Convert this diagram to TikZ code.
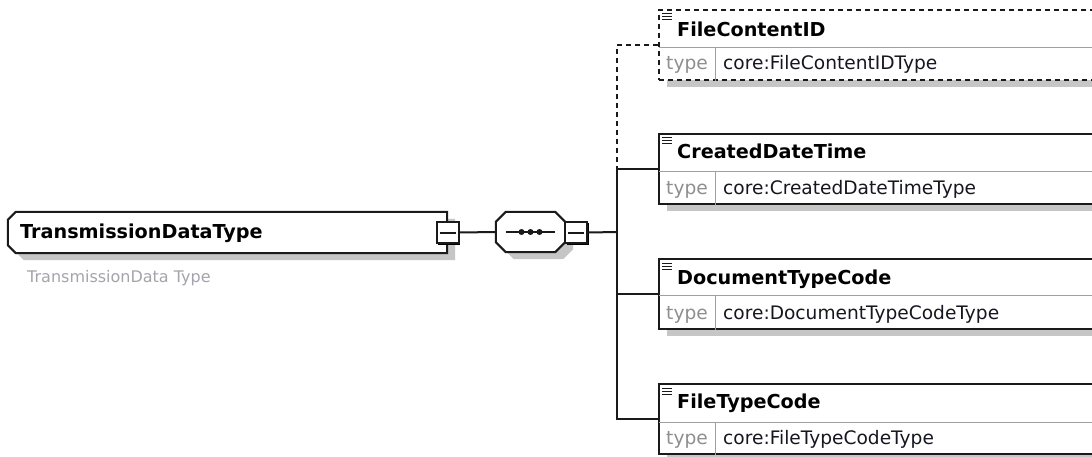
\documentclass[tikz,border=0pt]{standalone}
\usepackage{fontspec}
\setsansfont{DejaVu Sans}
\usetikzlibrary{shadows}
\definecolor{boxline}{HTML}{1A1A1A}
\definecolor{shadowgray}{HTML}{C6C6C6}
\definecolor{dividergray}{HTML}{A0A0A0}
\definecolor{typegray}{HTML}{8E8E8E}
\definecolor{notegray}{HTML}{A4A4AC}
\definecolor{valuetext}{HTML}{161620}
\begin{document}
\begin{tikzpicture}[x=1pt, y=-1pt,
  box/.style={draw=boxline, line width=2pt, fill=white, inner sep=0pt},
  shade box/.style={drop shadow={shadow xshift=8pt, shadow yshift=-7pt, fill=shadowgray, opacity=1}},
  frame/.style={inner sep=0pt},
  elem/.style={box, shade box, anchor=north west, minimum width=480pt, minimum height=70pt},
  optional/.style={dash pattern=on 5pt off 4pt},
  minusbox/.style={box, minimum width=22pt, minimum height=21pt, drop shadow={shadow xshift=1.5pt, shadow yshift=-1.5pt, fill=black, opacity=1}},
  conn/.style={draw=boxline, line width=2pt},
  divider/.style={draw=dividergray, line width=1pt},
  icon/.style={draw=boxline, line width=1pt},
  name font/.style={anchor=base west, inner sep=0pt, font=\sffamily\bfseries\fontsize{19.2}{22}\selectfont},
  type font/.style={anchor=base west, inner sep=0pt, text=typegray, font=\sffamily\fontsize{18.6}{22}\selectfont},
  value font/.style={anchor=base west, inner sep=0pt, text=valuetext, font=\sffamily\fontsize{18.6}{22}\selectfont},
  note font/.style={anchor=base west, inner sep=0pt, text=notegray, font=\sffamily\fontsize{16}{19}\selectfont}]
\useasboundingbox (0,0) rectangle (1092,457);
\clip (0,0) rectangle (1092,457);
\fill[white] (0,0) rectangle (1092,457);

\node (main) [frame, minimum width=439pt, minimum height=41pt] at (227.5,232.5) {};
\draw[box, shade box] ([shift={(0,8)}]main.north west) -- ([shift={(8,0)}]main.north west) -- (main.north east) -- (main.south east) -- ([shift={(8,0)}]main.south west) -- ([shift={(0,-8)}]main.south west) -- cycle;
\node (main_label) [name font] at (20,238) {TransmissionDataType};
\node (main_note) [note font] at (27,282) {TransmissionData Type};
\node (main_minus) [minusbox] at (447.5,232.5) {};
\draw[conn] ([xshift=4pt]main_minus.west) -- ([xshift=-4pt]main_minus.east);

\node (seq) [frame, minimum width=69pt, minimum height=40pt] at (530.5,232) {};
\draw[box, shade box] ([shift={(0,10)}]seq.north west) -- ([shift={(10,0)}]seq.north west) -- ([shift={(-10,0)}]seq.north east) -- ([shift={(0,10)}]seq.north east) -- ([shift={(0,-10)}]seq.south east) -- ([shift={(-10,0)}]seq.south east) -- ([shift={(10,0)}]seq.south west) -- ([shift={(0,-10)}]seq.south west) -- cycle;
\draw[conn] ([xshift=10pt]seq.west) -- ([xshift=-10pt]seq.east);
\fill[boxline] ([xshift=-9pt]seq.center) circle (3pt) (seq.center) circle (3pt) ([xshift=9pt]seq.center) circle (3pt);
\node (seq_minus) [minusbox] at (576,232.5) {};
\draw[conn] ([xshift=4pt]seq_minus.west) -- ([xshift=-4pt]seq_minus.east);

\coordinate (bus) at (617,232);

\node (file_content_id) [elem, optional] at (658,9) {};
\draw[divider] ([shift={(1,39)}]file_content_id.north west) -- ([shift={(0,39)}]file_content_id.north east);
\draw[divider] ([shift={(57,39)}]file_content_id.north west) -- ([shift={(57,0)}]file_content_id.south west);
\draw[icon] ([shift={(4,5)}]file_content_id.north west) -- ++(10,0) ([shift={(4,8)}]file_content_id.north west) -- ++(10,0) ([shift={(4,11)}]file_content_id.north west) -- ++(10,0);
\node (file_content_id_name) [name font] at ([shift={(19,28)}]file_content_id.north west) {FileContentID};
\node (file_content_id_type) [type font] at ([shift={(8,61)}]file_content_id.north west) {type};
\node (file_content_id_value) [value font] at ([shift={(65,61)}]file_content_id.north west) {core:FileContentIDType};

\node (created_date_time) [elem] at (658,133) {};
\draw[divider] ([shift={(1,39)}]created_date_time.north west) -- ([shift={(0,39)}]created_date_time.north east);
\draw[divider] ([shift={(57,39)}]created_date_time.north west) -- ([shift={(57,0)}]created_date_time.south west);
\draw[icon] ([shift={(4,5)}]created_date_time.north west) -- ++(10,0) ([shift={(4,8)}]created_date_time.north west) -- ++(10,0) ([shift={(4,11)}]created_date_time.north west) -- ++(10,0);
\node (created_date_time_name) [name font] at ([shift={(19,26)}]created_date_time.north west) {CreatedDateTime};
\node (created_date_time_type) [type font] at ([shift={(8,62)}]created_date_time.north west) {type};
\node (created_date_time_value) [value font] at ([shift={(65,62)}]created_date_time.north west) {core:CreatedDateTimeType};

\node (document_type_code) [elem] at (658,258) {};
\draw[divider] ([shift={(1,37)}]document_type_code.north west) -- ([shift={(0,37)}]document_type_code.north east);
\draw[divider] ([shift={(57,37)}]document_type_code.north west) -- ([shift={(57,0)}]document_type_code.south west);
\draw[icon] ([shift={(4,5)}]document_type_code.north west) -- ++(10,0) ([shift={(4,8)}]document_type_code.north west) -- ++(10,0) ([shift={(4,11)}]document_type_code.north west) -- ++(10,0);
\node (document_type_code_name) [name font] at ([shift={(19,26)}]document_type_code.north west) {DocumentTypeCode};
\node (document_type_code_type) [type font] at ([shift={(8,61)}]document_type_code.north west) {type};
\node (document_type_code_value) [value font] at ([shift={(65,61)}]document_type_code.north west) {core:DocumentTypeCodeType};

\node (file_type_code) [elem] at (658,383) {};
\draw[divider] ([shift={(1,39)}]file_type_code.north west) -- ([shift={(0,39)}]file_type_code.north east);
\draw[divider] ([shift={(57,39)}]file_type_code.north west) -- ([shift={(57,0)}]file_type_code.south west);
\draw[icon] ([shift={(4,5)}]file_type_code.north west) -- ++(10,0) ([shift={(4,8)}]file_type_code.north west) -- ++(10,0) ([shift={(4,11)}]file_type_code.north west) -- ++(10,0);
\node (file_type_code_name) [name font] at ([shift={(19,25)}]file_type_code.north west) {FileTypeCode};
\node (file_type_code_type) [type font] at ([shift={(8,61)}]file_type_code.north west) {type};
\node (file_type_code_value) [value font] at ([shift={(65,61)}]file_type_code.north west) {core:FileTypeCodeType};

\draw[conn] (main_minus.east) -- (seq.west);
\draw[conn] (seq_minus.east) -- (bus);
\draw[conn, optional] (file_content_id.west) -- (file_content_id.west -| bus) -- (created_date_time.west -| bus);
\draw[conn] (created_date_time.west) -- (created_date_time.west -| bus) -- (file_type_code.west -| bus) -- (file_type_code.west);
\draw[conn] (document_type_code.west) -- (document_type_code.west -| bus);
\end{tikzpicture}
\end{document}
